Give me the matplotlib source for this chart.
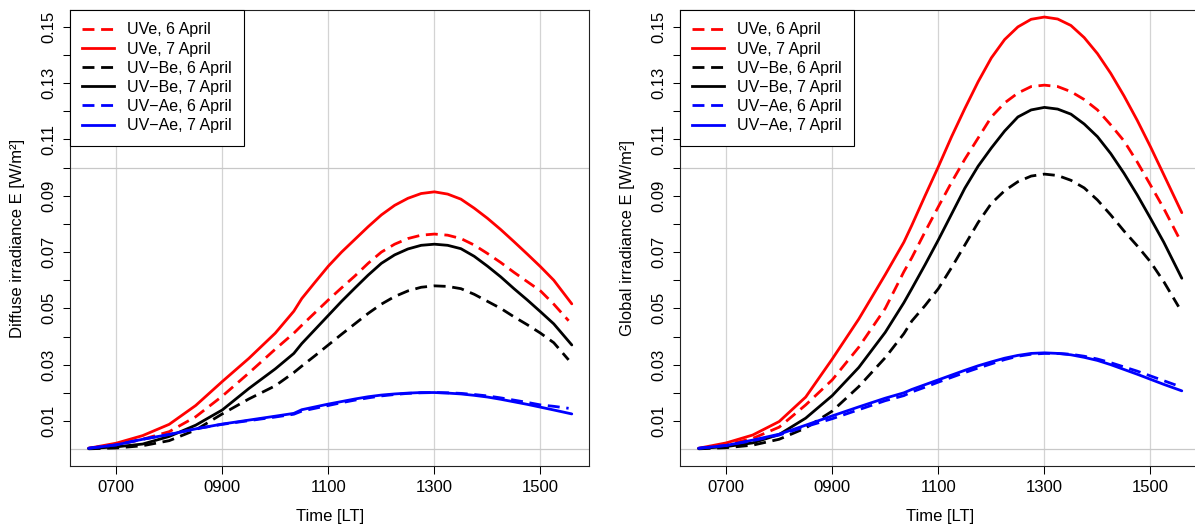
import numpy as np
import matplotlib
matplotlib.use('Agg')
import matplotlib.pyplot as plt
from matplotlib.lines import Line2D

plt.rcParams['font.family'] = ['Liberation Sans', 'DejaVu Sans']

# time in decimal hours (local time)
t6 = [6.48, 7.0, 7.5, 8.0, 8.5, 9.0, 9.5, 10.0, 10.35,
      10.5, 10.75, 11.0, 11.25, 11.5, 11.75, 12.0, 12.25, 12.5, 12.75,
      13.0, 13.25, 13.5, 13.75, 14.0, 14.25, 14.5, 14.75, 15.0, 15.25, 15.53]
t7 = [6.48, 7.0, 7.5, 8.0, 8.5, 9.0, 9.5, 10.0, 10.35,
      10.5, 10.75, 11.0, 11.25, 11.5, 11.75, 12.0, 12.25, 12.5, 12.75,
      13.0, 13.25, 13.5, 13.75, 14.0, 14.25, 14.5, 14.75, 15.0, 15.25, 15.59]

# diffuse irradiance [W/m2]
dif_uve_6 = [0.0003, 0.0015, 0.0035, 0.0062, 0.0115, 0.0188, 0.0270, 0.0355, 0.0412,
             0.0440, 0.0485, 0.0530, 0.0573, 0.0615, 0.0660, 0.0700, 0.0728, 0.0748, 0.0760,
             0.0764, 0.0760, 0.0748, 0.0725, 0.0695, 0.0663, 0.0628, 0.0595, 0.0562, 0.0515, 0.0456]
dif_uve_7 = [0.0003, 0.0021, 0.0048, 0.0088, 0.0155, 0.0240, 0.0322, 0.0412, 0.0490,
             0.0535, 0.0593, 0.0650, 0.0700, 0.0745, 0.0790, 0.0832, 0.0866, 0.0891, 0.0908,
             0.0914, 0.0906, 0.0888, 0.0856, 0.0820, 0.0780, 0.0737, 0.0693, 0.0648, 0.0600, 0.0516]
dif_uvb_6 = [0.0001, 0.0004, 0.0012, 0.0030, 0.0068, 0.0125, 0.0178, 0.0225, 0.0272,
             0.0295, 0.0332, 0.0370, 0.0408, 0.0445, 0.0482, 0.0515, 0.0542, 0.0562, 0.0575,
             0.0580, 0.0578, 0.0570, 0.0550, 0.0525, 0.0500, 0.0470, 0.0442, 0.0412, 0.0378, 0.0317]
dif_uvb_7 = [0.0002, 0.0008, 0.0018, 0.0045, 0.0085, 0.0139, 0.0215, 0.0285, 0.0340,
             0.0375, 0.0425, 0.0475, 0.0525, 0.0572, 0.0618, 0.0660, 0.0690, 0.0711, 0.0724,
             0.0728, 0.0724, 0.0712, 0.0685, 0.0650, 0.0612, 0.0570, 0.0530, 0.0488, 0.0445, 0.0370]
dif_uva_6 = [0.0003, 0.0015, 0.0035, 0.0052, 0.0072, 0.0088, 0.0101, 0.0114, 0.0124,
             0.0135, 0.0145, 0.0155, 0.0165, 0.0174, 0.0182, 0.0189, 0.0194, 0.0198, 0.0200,
             0.0201, 0.0200, 0.0198, 0.0194, 0.0189, 0.0182, 0.0174, 0.0166, 0.0157, 0.0152, 0.0145]
dif_uva_7 = [0.0003, 0.0015, 0.0035, 0.0052, 0.0072, 0.0089, 0.0103, 0.0117, 0.0127,
             0.0140, 0.0150, 0.0160, 0.0169, 0.0178, 0.0186, 0.0192, 0.0196, 0.0199, 0.0201,
             0.0201, 0.0199, 0.0196, 0.0191, 0.0185, 0.0177, 0.0168, 0.0159, 0.0149, 0.0139, 0.0125]

# global irradiance [W/m2]
glo_uve_6 = [0.0002, 0.0015, 0.0038, 0.0078, 0.0157, 0.0246, 0.0362, 0.0500, 0.0630,
             0.0680, 0.0772, 0.0861, 0.0948, 0.1030, 0.1105, 0.1180, 0.1230, 0.1265, 0.1288,
             0.1293, 0.1288, 0.1270, 0.1242, 0.1205, 0.1152, 0.1095, 0.1020, 0.0938, 0.0855, 0.0753]
glo_uve_7 = [0.0003, 0.0022, 0.0050, 0.0098, 0.0185, 0.0320, 0.0462, 0.0620, 0.0735,
             0.0795, 0.0900, 0.1003, 0.1110, 0.1210, 0.1305, 0.1390, 0.1455, 0.1500, 0.1527,
             0.1535, 0.1528, 0.1505, 0.1462, 0.1405, 0.1335, 0.1255, 0.1168, 0.1074, 0.0975, 0.0840]
glo_uvb_6 = [0.0001, 0.0005, 0.0014, 0.0035, 0.0075, 0.0135, 0.0222, 0.0325, 0.0410,
             0.0455, 0.0510, 0.0570, 0.0645, 0.0725, 0.0805, 0.0873, 0.0918, 0.0950, 0.0970,
             0.0977, 0.0972, 0.0955, 0.0928, 0.0885, 0.0832, 0.0775, 0.0722, 0.0665, 0.0595, 0.0506]
glo_uvb_7 = [0.0002, 0.0009, 0.0022, 0.0052, 0.0110, 0.0190, 0.0290, 0.0415, 0.0520,
             0.0570, 0.0655, 0.0743, 0.0835, 0.0927, 0.1005, 0.1070, 0.1130, 0.1180, 0.1205,
             0.1214, 0.1208, 0.1190, 0.1155, 0.1110, 0.1050, 0.0980, 0.0903, 0.0820, 0.0735, 0.0607]
glo_uva_6 = [0.0003, 0.0013, 0.0030, 0.0050, 0.0080, 0.0108, 0.0140, 0.0172, 0.0190,
             0.0203, 0.0220, 0.0238, 0.0255, 0.0272, 0.0288, 0.0303, 0.0318, 0.0330, 0.0337,
             0.0340, 0.0340, 0.0337, 0.0330, 0.0320, 0.0307, 0.0292, 0.0277, 0.0260, 0.0243, 0.0224]
glo_uva_7 = [0.0003, 0.0013, 0.0032, 0.0053, 0.0085, 0.0118, 0.0150, 0.0181, 0.0200,
             0.0212, 0.0229, 0.0246, 0.0263, 0.0280, 0.0296, 0.0310, 0.0323, 0.0333, 0.0340,
             0.0342, 0.0340, 0.0335, 0.0326, 0.0315, 0.0300, 0.0283, 0.0266, 0.0248, 0.0230, 0.0207]

labels = ['UVe, 6 April', 'UVe, 7 April', 'UV\u2212Be, 6 April', 'UV\u2212Be, 7 April',
          'UV\u2212Ae, 6 April', 'UV\u2212Ae, 7 April']
colors = ['red', 'red', 'black', 'black', 'blue', 'blue']
xticks = [7, 9, 11, 13, 15]
xticklabels = ['0700', '0900', '1100', '1300', '1500']
yticks = [round(0.01 * i, 2) for i in range(1, 16)]

LW = 2.0
DASH = (4.3, 2.4)

fig = plt.figure(figsize=(11.95, 5.32), dpi=100)
W, H = 1195, 532
ax1 = fig.add_axes([70 / W, 66 / H, 519.3 / W, 456 / H])
ax2 = fig.add_axes([680 / W, 66 / H, 519.3 / W, 456 / H])

panels = [
    (ax1, [dif_uve_6, dif_uve_7, dif_uvb_6, dif_uvb_7, dif_uva_6, dif_uva_7],
     'Diffuse irradiance E [W/m\u00b2]'),
    (ax2, [glo_uve_6, glo_uve_7, glo_uvb_6, glo_uvb_7, glo_uva_6, glo_uva_7],
     'Global irradiance E [W/m\u00b2]'),
]

for ax, series, ylab in panels:
    for xv in xticks:
        ax.axvline(xv, color='#d3d3d3', lw=0.9, zorder=0)
    for yv in [0.0, 0.1]:
        ax.axhline(yv, color='#c8c8c8', lw=0.9, zorder=0)
    handles = []
    for i, (s, c) in enumerate(zip(series, colors)):
        t = t6 if i % 2 == 0 else t7
        if i % 2 == 0:
            ax.plot(t, s, color=c, lw=LW, dashes=DASH, zorder=2)
        else:
            ax.plot(t, s, color=c, lw=LW, zorder=2, solid_capstyle='round',
                    solid_joinstyle='round')
        handles.append(Line2D([], [], color=c, lw=LW,
                              dashes=DASH if i % 2 == 0 else (None, None)))
    ax.set_xlim(6.13, 15.92)
    ax.set_ylim(-0.006, 0.156)
    ax.set_xticks(xticks)
    ax.set_xticklabels(xticklabels)
    ax.set_yticks(yticks)
    ax.set_yticklabels([f'{v:.2f}' if i % 2 == 0 else '' for i, v in enumerate(yticks)],
                       rotation=90, va='center')
    ax.tick_params(direction='out', length=5.4, width=0.75, labelsize=12, pad=4.5)
    for sp in ax.spines.values():
        sp.set_linewidth(0.8)
        sp.set_color('#222222')
    ax.set_ylabel(ylab, fontsize=12)
    ax.yaxis.set_label_coords(-0.087, 0.5)
    ax.set_xlabel('Time [LT]', fontsize=12)
    ax.xaxis.set_label_coords(0.5, -0.095)
    leg = ax.legend(handles, labels, loc='upper left', bbox_to_anchor=(0, 1),
                    borderaxespad=0, fancybox=False, framealpha=1, edgecolor='black',
                    fontsize=11.5, handlelength=1.95, handletextpad=0.82,
                    borderpad=0.78, labelspacing=0.26)
    leg.get_frame().set_linewidth(0.8)

fig.savefig('out.png', dpi=100)
